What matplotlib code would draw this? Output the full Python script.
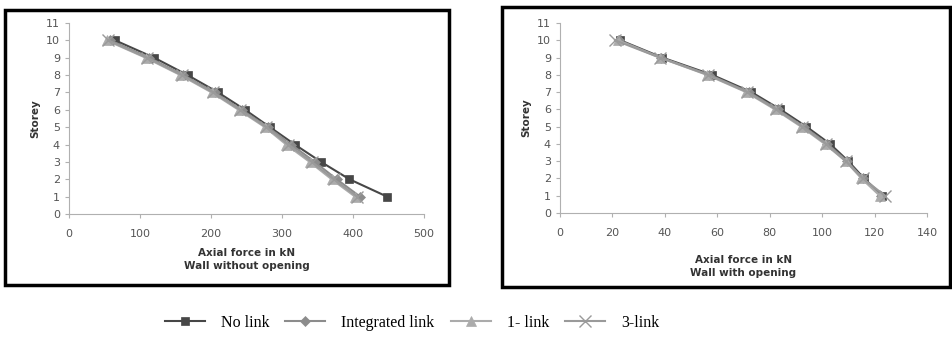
import matplotlib.pyplot as plt
from matplotlib.patches import Rectangle

storey = [10, 9, 8, 7, 6, 5, 4, 3, 2, 1]

# wall without opening
no_link_a = [65, 120, 167, 210, 248, 283, 318, 355, 395, 448]
integ_a = [58, 113, 161, 205, 243, 280, 313, 346, 377, 410]
one_link_a = [53, 108, 157, 201, 239, 276, 306, 339, 370, 403]
three_link_a = [55, 110, 159, 203, 241, 278, 309, 342, 373, 406]

# wall with opening
no_link_b = [23, 39, 58, 73, 84, 94, 103, 110, 116, 123]
integ_b = [22.5, 38.5, 57, 72, 83, 93, 102, 109.5, 115.5, 122.5]
one_link_b = [22, 38, 56, 71, 82, 92, 101, 109, 115, 122]
three_link_b = [21, 38, 56.5, 71.5, 82.5, 92.5, 101.5, 109, 115.5, 124]

names = ['No link', 'Integrated link', '1- link', '3-link']
colors = ['#474747', '#8c8c8c', '#ababab', '#9a9a9a']
markers = ['s', 'D', '^', 'x']
msizes = [6, 5, 7, 8]

fig = plt.figure(figsize=(9.52, 3.38), dpi=100)
W, H = 952, 338

def panel(box, axbox, series, xmax, xstep, title, lpad):
    fig.patches.append(Rectangle((box[0] / W, 1 - box[3] / H), (box[2] - box[0]) / W,
                                 (box[3] - box[1]) / H, transform=fig.transFigure,
                                 fill=False, lw=2.5, ec='black'))
    ax = fig.add_axes([axbox[0] / W, 1 - axbox[3] / H, (axbox[2] - axbox[0]) / W,
                       (axbox[3] - axbox[1]) / H])
    for xs, nm, c, m, ms in zip(series, names, colors, markers, msizes):
        ax.plot(xs, storey, color=c, marker=m, ms=ms, lw=1.5, label=nm,
                mew=1.0 if m == 'x' else 0.5)
    ax.set_xlim(0, xmax)
    ax.set_ylim(0, 11)
    ax.set_xticks(range(0, xmax + 1, xstep))
    ax.set_yticks(range(0, 12))
    for s in ['top', 'right']:
        ax.spines[s].set_visible(False)
    for s in ['left', 'bottom']:
        ax.spines[s].set_color('#b0b0b0')
    ax.tick_params(colors='#b0b0b0', labelcolor='#555555', labelsize=8, length=3)
    ax.tick_params(axis='x', pad=8)
    ax.set_xlabel('Axial force in kN\n' + title, fontsize=7.5, fontweight='bold',
                  color='#333333', linespacing=1.4, labelpad=lpad)
    ax.set_ylabel('Storey', fontsize=7.5, fontweight='bold', color='#333333')
    return ax

ax1 = panel((5, 10, 449, 285), (69, 23, 424, 214),
            [no_link_a, integ_a, one_link_a, three_link_a], 500, 100, 'Wall without opening', 6)
ax2 = panel((502, 7, 950, 287), (560, 23, 927, 213),
            [no_link_b, integ_b, one_link_b, three_link_b], 140, 20, 'Wall with opening', 12)

h, l = ax1.get_legend_handles_labels()
fig.legend(h, l, loc='center', bbox_to_anchor=(412 / W, 1 - 323 / H), ncol=4, frameon=False,
           prop={'family': 'Liberation Serif', 'size': 11.5}, handlelength=2.5,
           handletextpad=1.0, columnspacing=1.0)

plt.savefig('out.png', dpi=100)
